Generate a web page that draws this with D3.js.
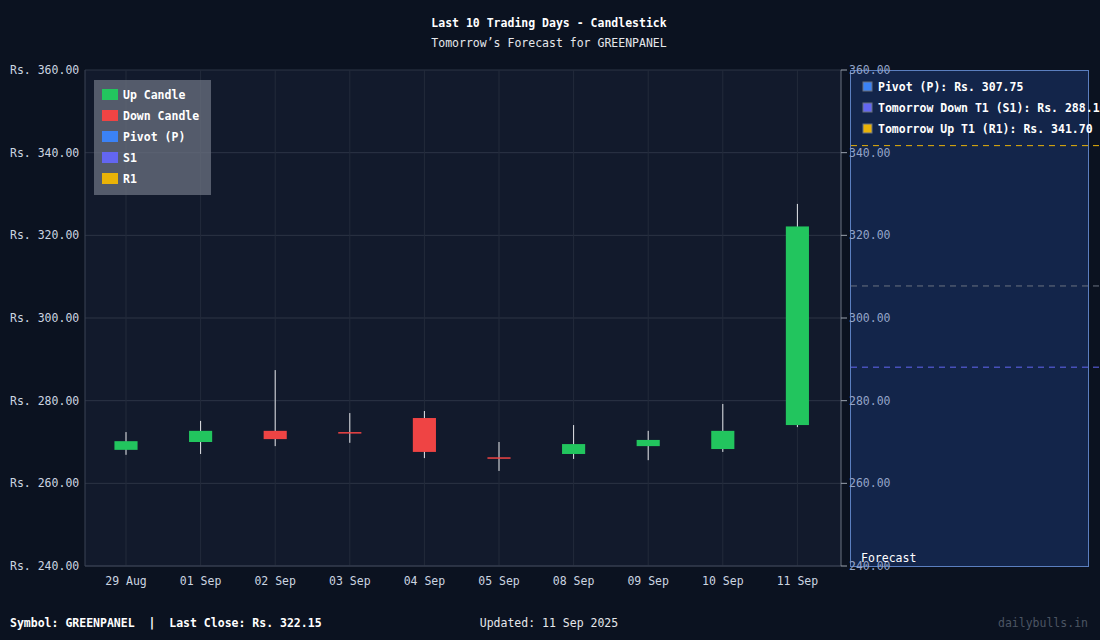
<!DOCTYPE html>
<html><head><meta charset="utf-8">
<script src="https://cdn.jsdelivr.net/npm/d3@7"></script>
<style>
body{margin:0;background:#0b1220;}
text{font-family:"DejaVu Sans Mono",monospace;}
</style></head>
<body><svg id="chart" width="1100" height="640"></svg>
<script>
// data
var dates = ["29 Aug","01 Sep","02 Sep","03 Sep","04 Sep","05 Sep","08 Sep","09 Sep","10 Sep","11 Sep"];
var opens = [268.1, 270.0, 272.7, 272.4, 275.8, 266.3, 267.1, 269.0, 268.3, 274.1];
var highs = [272.4, 275.1, 287.4, 277.0, 277.5, 270.0, 274.1, 272.7, 279.2, 327.6];
var lows = [266.9, 267.1, 269.0, 269.8, 266.1, 263.0, 265.9, 265.6, 267.6, 273.6];
var closes = [270.2, 272.7, 270.7, 272.2, 267.6, 266.0, 269.5, 270.5, 272.7, 322.15];
var yTicks = [240, 260, 280, 300, 320, 340, 360];
var levelNames = ["Pivot (P)", "Tomorrow Down T1 (S1)", "Tomorrow Up T1 (R1)"];
var levelValues = [307.75, 288.10, 341.70];
var levelColors = ["#3b82f6", "#6366f1", "#eab308"];
var lineColors = ["#6b7280", "#6366f1", "#eab308"];

var svg = d3.select("#chart");
var pLeft = 85, pRight = 841, pTop = 70, pBottom = 566;
var fs = 11.5;

svg.append("rect").attr("width",1100).attr("height",640).attr("fill","#0b1220");
svg.append("rect").attr("x",pLeft).attr("y",pTop).attr("width",pRight-pLeft).attr("height",pBottom-pTop).attr("fill","#121a2c");

var x = d3.scaleBand().domain(dates).range([88.7, 834.7]).paddingInner(0.69).paddingOuter(0.345);
var y = d3.scaleLinear().domain([240,360]).range([pBottom, pTop]);
var cx = d => x(d) + x.bandwidth()/2;

// grid
svg.append("g").selectAll("line").data(yTicks).enter().append("line")
  .attr("x1",pLeft).attr("x2",pRight).attr("y1",d=>y(d)).attr("y2",d=>y(d))
  .attr("stroke","#2c3445").attr("stroke-width",1);
svg.append("g").selectAll("line").data(dates).enter().append("line")
  .attr("x1",cx).attr("x2",cx)
  .attr("y1",pTop).attr("y2",pBottom).attr("stroke","#232b3b");

// axes lines
svg.append("line").attr("x1",pLeft).attr("x2",pLeft).attr("y1",pTop).attr("y2",pBottom).attr("stroke","#3a4354");
svg.append("line").attr("x1",pLeft).attr("x2",pRight).attr("y1",pBottom).attr("y2",pBottom).attr("stroke","#3a4354");

svg.append("g").selectAll("text").data(yTicks).enter().append("text")
  .attr("x",10).attr("y",d=>y(d)+4).attr("fill","#cbd5e1").attr("font-size",fs)
  .text(d=>"Rs. "+d.toFixed(2));
svg.append("g").selectAll("text").data(dates).enter().append("text")
  .attr("x",cx).attr("y",585).attr("text-anchor","middle")
  .attr("fill","#cbd5e1").attr("font-size",fs).text(d=>d);

// forecast panel
svg.append("rect").attr("x",850.5).attr("y",70.5).attr("width",238).attr("height",496)
  .attr("fill","#13254a").attr("stroke","#5b7fc0");
svg.append("line").attr("x1",841).attr("x2",841).attr("y1",pTop).attr("y2",pBottom).attr("stroke","#6b7280");
svg.append("g").selectAll("line").data(yTicks).enter().append("line")
  .attr("x1",841).attr("x2",847).attr("y1",d=>y(d)).attr("y2",d=>y(d)).attr("stroke","#9ca3af");
svg.append("g").selectAll("text").data(yTicks).enter().append("text")
  .attr("x",849).attr("y",d=>y(d)+4).attr("fill","#93a4c8").attr("font-size",fs)
  .text(d=>d.toFixed(2));
svg.append("g").selectAll("line").data(levelValues).enter().append("line")
  .attr("x1",851).attr("x2",1100).attr("y1",d=>y(d)).attr("y2",d=>y(d))
  .attr("stroke",(d,i)=>lineColors[i]).attr("stroke-dasharray","6,5");
svg.append("text").attr("x",861).attr("y",562).attr("fill","#ffffff").attr("font-size",fs).text("Forecast");
levelNames.forEach(function(n,i){
  svg.append("rect").attr("x",863).attr("y",82+i*21).attr("width",9).attr("height",9)
    .attr("fill",levelColors[i]).attr("stroke","#6b7280");
  svg.append("text").attr("x",878).attr("y",91+i*21).attr("fill","#ffffff").attr("font-size",fs)
    .attr("font-weight","bold").text(n+": Rs. "+levelValues[i].toFixed(2));
});

// candles
var candles = svg.append("g").selectAll("g").data(dates).enter().append("g");
candles.append("line")
  .attr("x1",cx).attr("x2",cx)
  .attr("y1",(d,i)=>y(highs[i])).attr("y2",(d,i)=>y(lows[i]))
  .attr("stroke","#e5e7eb").attr("stroke-width",1);
candles.append("rect")
  .attr("x",d=>x(d)).attr("width",x.bandwidth())
  .attr("y",(d,i)=>y(Math.max(opens[i],closes[i])))
  .attr("height",(d,i)=>Math.max(1.5,Math.abs(y(opens[i])-y(closes[i]))))
  .attr("fill",(d,i)=>closes[i]>=opens[i]?"#22c55e":"#ef4444");

// legend
var legNames = ["Up Candle","Down Candle","Pivot (P)","S1","R1"];
var legColors = ["#22c55e","#ef4444","#3b82f6","#6366f1","#eab308"];
svg.append("rect").attr("x",94).attr("y",80).attr("width",117).attr("height",115)
  .attr("fill","#6b7280").attr("opacity",0.75);
legNames.forEach(function(n,i){
  svg.append("rect").attr("x",102).attr("y",89+i*21).attr("width",16).attr("height",11).attr("fill",legColors[i]);
  svg.append("text").attr("x",123).attr("y",99+i*21).attr("fill","#ffffff").attr("font-size",fs).attr("font-weight","bold").text(n);
});

// titles and footer
svg.append("text").attr("x",549).attr("y",27).attr("text-anchor","middle").attr("fill","#ffffff")
  .attr("font-size",fs).attr("font-weight","bold").text("Last 10 Trading Days - Candlestick");
svg.append("text").attr("x",549).attr("y",47).attr("text-anchor","middle").attr("fill","#e5e7eb")
  .attr("font-size",fs).text("Tomorrow\u2019s Forecast for GREENPANEL");
svg.append("text").attr("x",10).attr("y",627).attr("fill","#ffffff").attr("font-size",fs).attr("font-weight","bold")
  .attr("xml:space","preserve").text("Symbol: GREENPANEL  |  Last Close: Rs. 322.15");
svg.append("text").attr("x",549).attr("y",627).attr("text-anchor","middle").attr("fill","#e5e7eb").attr("font-size",fs)
  .text("Updated: 11 Sep 2025");
svg.append("text").attr("x",1088).attr("y",627).attr("text-anchor","end").attr("fill","#4b5563").attr("font-size",fs)
  .text("dailybulls.in");
</script></body></html>
